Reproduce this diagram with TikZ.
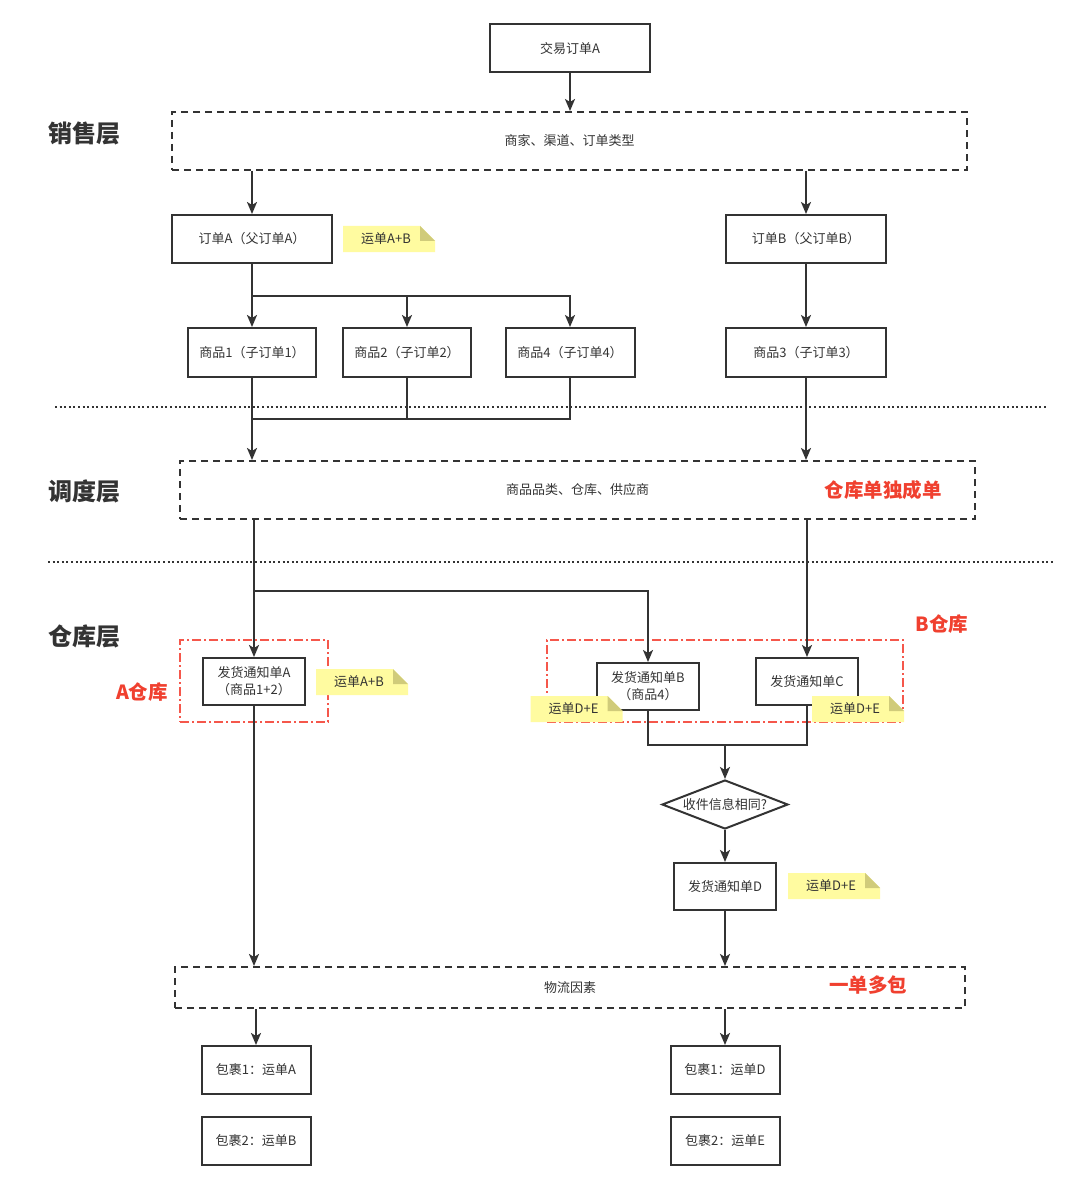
\documentclass[tikz,border=0pt]{standalone}
\usepackage{fontspec}
\setmainfont{Noto Sans CJK SC}
\usetikzlibrary{arrows.meta,shapes.geometric}
\definecolor{ln}{HTML}{333333}
\definecolor{txt}{HTML}{333333}
\definecolor{rd}{HTML}{F0402F}
\definecolor{rdl}{HTML}{F5574B}
\definecolor{notey}{HTML}{FFFBA0}
\definecolor{notef}{HTML}{D0CB7A}
\newcommand\stickynote[4]{%
  \fill[notey] (#2-46,#3-13) -- (#2+31,#3-13) -- (#2+46,#3+2) -- (#2+46,#3+13) -- (#2-46,#3+13) -- cycle;
  \fill[notef] (#2+31,#3-13) -- (#2+46,#3+2) -- (#2+31,#3+2) -- cycle;
  \node[notetext] (#1) at (#2-3,#3) {#4};}
\begin{document}
\begin{tikzpicture}[x=1pt,y=-1pt,
  box/.style={draw=ln, line width=2pt, fill=white, text=txt, font=\fontsize{13}{17}\selectfont, inner sep=0pt, align=center},
  arr/.style={draw=ln, line width=2pt, -{Stealth[length=12pt,width=10pt,inset=3pt]}},
  conn/.style={draw=ln, line width=2pt},
  layer/.style={draw=ln, line width=2pt, dash pattern=on 7pt off 5pt, inner sep=0pt, text=txt, font=\fontsize{13}{16}\selectfont},
  wh/.style={draw=rdl, line width=1.8pt, dash pattern=on 9pt off 3pt on 2pt off 3pt, inner sep=0pt},
  sep/.style={draw=ln, line width=2pt, dash pattern=on 2pt off 2.6pt},
  lab/.style={text=txt, font=\fontsize{24}{28}\selectfont\bfseries, inner sep=0pt},
  redlab/.style={text=rd, font=\fontsize{19.5}{22}\selectfont\bfseries, inner sep=0pt},
  notetext/.style={text=txt, font=\fontsize{13}{16}\selectfont, inner sep=0pt},
  dia/.style={draw=ln, line width=2pt, fill=white, text=txt, font=\fontsize{13}{16}\selectfont, shape=diamond, aspect=2.57, inner sep=0pt, minimum width=126pt, minimum height=49pt}
]
\useasboundingbox[fill=white] (0,0) rectangle (1080,1190);

% separators
\draw[sep] (55,407) -- (1048,407);
\draw[sep] (48,562) -- (1055,562);

% layer labels
\node[lab] (l1) at (84,133) {销售层};
\node[lab] (l2) at (84,491) {调度层};
\node[lab] (l3) at (84,636) {仓库层};

% top
\node[box, minimum width=160pt, minimum height=48pt] (ta) at (570,48.5) {交易订单A};
\node[layer, minimum width=795pt, minimum height=58pt] (sales) at (569.5,141) {商家、渠道、订单类型};

\node[box, minimum width=160pt, minimum height=48pt] (oa) at (252,239) {订单A（父订单A）};
\node[box, minimum width=160pt, minimum height=48pt] (ob) at (806,239) {订单B（父订单B）};

\node[box, minimum width=128pt, minimum height=49pt] (g1) at (252,352.5) {商品1（子订单1）};
\node[box, minimum width=128pt, minimum height=49pt] (g2) at (407,352.5) {商品2（子订单2）};
\node[box, minimum width=129pt, minimum height=49pt] (g4) at (570,352.5) {商品4（子订单4）};
\node[box, minimum width=160pt, minimum height=49pt] (g3) at (806,352.5) {商品3（子订单3）};

\node[layer, minimum width=795pt, minimum height=58pt] (disp) at (577.5,490) {商品品类、仓库、供应商};
\node[redlab] (r1) at (883,490) {仓库单独成单};

% warehouse zones
\node[wh, minimum width=148pt, minimum height=82pt] (wa) at (254,681) {};
\node[wh, minimum width=356pt, minimum height=82pt] (wb) at (725,681) {};
\node[redlab] (r2) at (142,692) {A仓库};
\node[redlab] (r3) at (942,624) {B仓库};

\node[box, minimum width=102pt, minimum height=47pt] (fa) at (254,681.5) {发货通知单A\\（商品1+2）};
\node[box, minimum width=102pt, minimum height=47pt] (fb) at (648,686.5) {发货通知单B\\（商品4）};
\node[box, minimum width=102pt, minimum height=47pt] (fc) at (807,681.5) {发货通知单C};

\node[dia] (dm) at (725,804.5) {收件信息相同?};
\node[box, minimum width=102pt, minimum height=47pt] (fd) at (725,886.5) {发货通知单D};

\node[layer, minimum width=790pt, minimum height=41pt] (log) at (570,987.5) {物流因素};
\node[redlab] (r4) at (868,985) {一单多包};

\node[box, minimum width=109pt, minimum height=48pt] (p1) at (256,1070) {包裹1：运单A};
\node[box, minimum width=109pt, minimum height=48pt] (p2) at (256,1141) {包裹2：运单B};
\node[box, minimum width=109pt, minimum height=48pt] (p3) at (725,1070) {包裹1：运单D};
\node[box, minimum width=109pt, minimum height=48pt] (p4) at (725,1141) {包裹2：运单E};

% connectors
\draw[arr] (ta.south) -- (ta.south |- sales.north);
\draw[arr] (oa.north |- sales.south) -- (oa.north);
\draw[arr] (ob.north |- sales.south) -- (ob.north);

\coordinate (j1) at (252,296);
\draw[conn] (oa.south) -- (j1);
\draw[arr] (j1) -- (g1.north);
\draw[arr] (j1) -| (g2.north);
\draw[arr] (j1) -| (g4.north);
\draw[arr] (ob.south) -- (g3.north);

\coordinate (j2) at (252,419);
\draw[arr] (g1.south) -- (g1.south |- disp.north);
\draw[conn] (g2.south) |- (j2);
\draw[conn] (g4.south) |- (j2);
\draw[arr] (g3.south) -- (g3.south |- disp.north);

\coordinate (j3) at (254,591);
\draw[arr] (fa.north |- disp.south) -- (fa.north);
\draw[arr] (j3) -| (fb.north);
\draw[arr] (fc.north |- disp.south) -- (fc.north);

\coordinate (j4) at (725,745);
\draw[conn] (fb.south) |- (j4);
\draw[conn] (fc.south) |- (j4);
\draw[arr] (j4) -- (dm.north);
\draw[arr] (dm.south) -- (fd.north);

\draw[arr] (fa.south) -- (fa.south |- log.north);
\draw[arr] (fd.south) -- (fd.south |- log.north);
\draw[arr] (p1.north |- log.south) -- (p1.north);
\draw[arr] (p3.north |- log.south) -- (p3.north);

% notes
\stickynote{n1}{389}{239}{运单A+B}
\stickynote{n2}{362}{682}{运单A+B}
\stickynote{n3}{576.5}{709}{运单D+E}
\stickynote{n4}{858}{709}{运单D+E}
\stickynote{n5}{834}{886}{运单D+E}
\end{tikzpicture}
\end{document}
